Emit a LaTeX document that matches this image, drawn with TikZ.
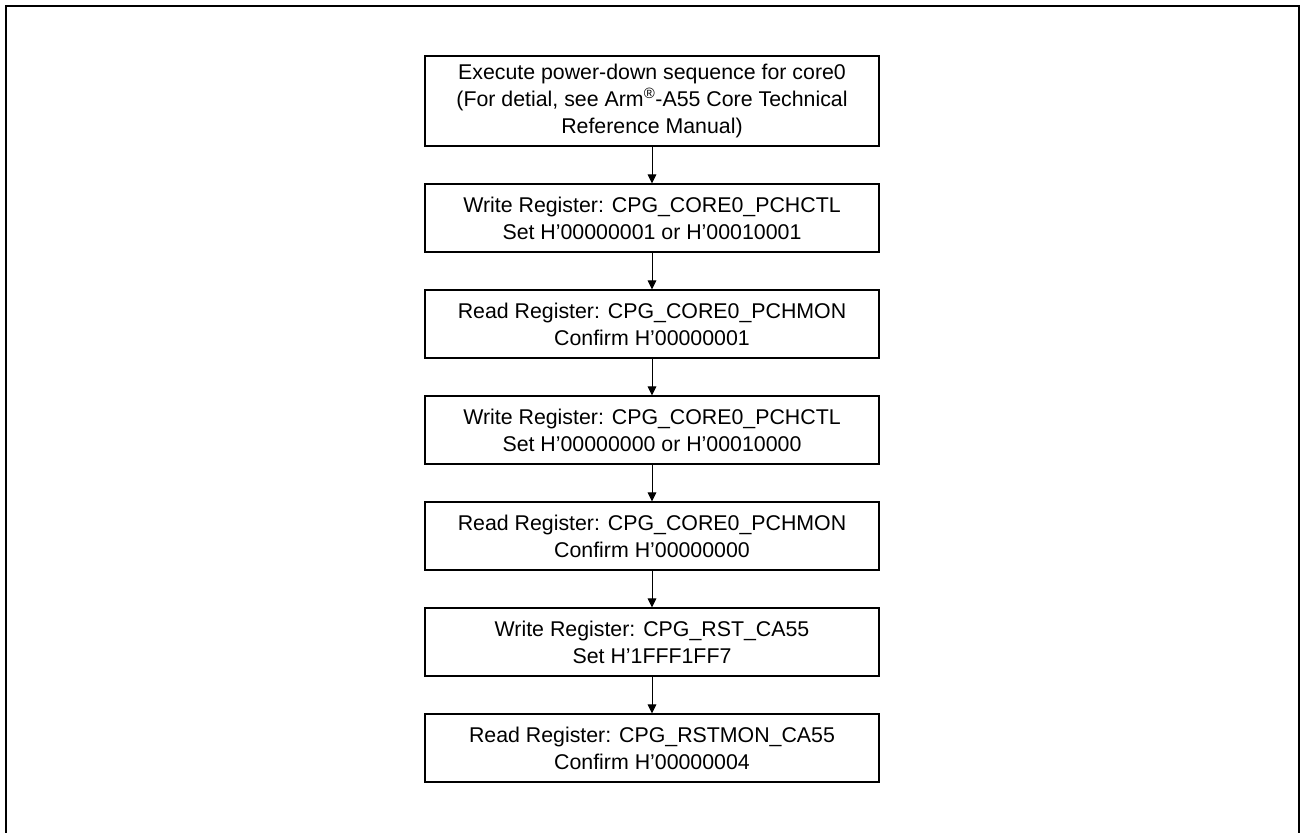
\documentclass[tikz,border=0pt]{standalone}
\usepackage{fontspec}
\setmainfont{Liberation Sans}
\usetikzlibrary{positioning,arrows.meta}
\tikzset{
	stepbox/.style={draw, line width=1pt, minimum width=340.5pt, minimum height=51pt,
		inner sep=0pt, align=center, font=\fontsize{16}{20.25}\selectfont},
	flow/.style={-{Triangle[length=6.75pt,width=6.5pt]}, line width=0.75pt}
}
\begin{document}
\begin{tikzpicture}[x=0.75pt,y=0.75pt,yscale=-1,xscale=1,node distance=27.5pt]
	\useasboundingbox (0,0) rectangle (1301,832);
	% Frame
	\draw [line width=1.5pt] (6,6) rectangle (1299,870);
	
	% Steps
	\node [stepbox, minimum height=67.5pt] (pwrdn) at (652,101) {Execute power-down sequence for core0\\
		(For detial, see Arm\textsuperscript{®}-A55 Core Technical\\
		Reference Manual)};
	\node [stepbox, below=of pwrdn] (wrctl1) {Write Register: CPG\_CORE0\_PCHCTL\\
		Set H’00000001 or H’00010001};
	\node [stepbox, below=of wrctl1] (rdmon1) {Read Register: CPG\_CORE0\_PCHMON\\
		Confirm H’00000001};
	\node [stepbox, below=of rdmon1] (wrctl0) {Write Register: CPG\_CORE0\_PCHCTL\\
		Set H’00000000 or H’00010000};
	\node [stepbox, below=of wrctl0] (rdmon0) {Read Register: CPG\_CORE0\_PCHMON\\
		Confirm H’00000000};
	\node [stepbox, below=of rdmon0] (wrrst) {Write Register: CPG\_RST\_CA55\\
		Set H’1FFF1FF7};
	\node [stepbox, below=of wrrst] (rdrst) {Read Register: CPG\_RSTMON\_CA55\\
		Confirm H’00000004};
	
	% Connections
	\draw [flow] (pwrdn) -- (wrctl1);
	\draw [flow] (wrctl1) -- (rdmon1);
	\draw [flow] (rdmon1) -- (wrctl0);
	\draw [flow] (wrctl0) -- (rdmon0);
	\draw [flow] (rdmon0) -- (wrrst);
	\draw [flow] (wrrst) -- (rdrst);
	
\end{tikzpicture}
\end{document}
